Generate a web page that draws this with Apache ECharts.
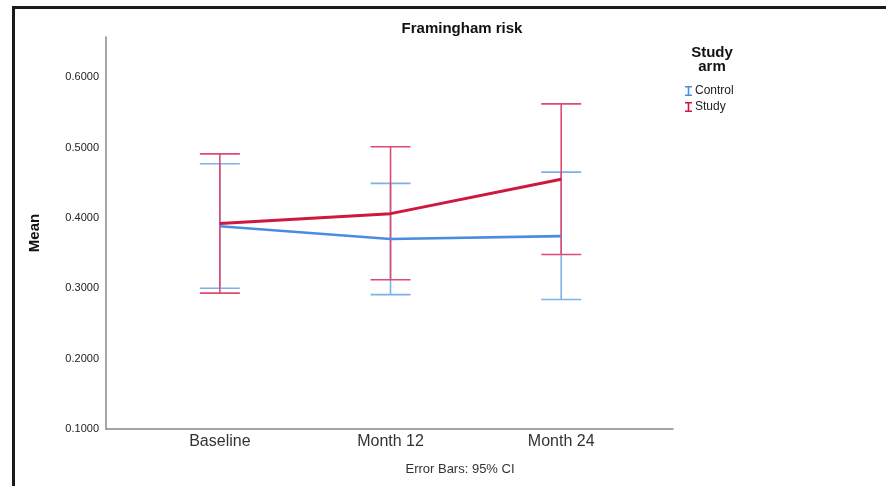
<!DOCTYPE html>
<html>
<head>
<meta charset="utf-8">
<script src="https://cdn.jsdelivr.net/npm/echarts@6/dist/echarts.min.js"></script>
<style>
  html, body { margin: 0; padding: 0; background: #fff; }
  #frame { position: absolute; left: 12px; top: 6px; width: 900px; height: 500px;
           border-top: 3px solid #1a1a1a; border-left: 3px solid #1a1a1a; }
  #main { position: absolute; left: 0; top: 0; width: 886px; height: 486px; }
</style>
</head>
<body>
<div id="frame"></div>
<div id="main"></div>
<script>
// 时间点
var categories = ['Baseline', 'Month 12', 'Month 24'];
// 均值
var controlMean = [0.388, 0.370, 0.374];
var studyMean   = [0.392, 0.406, 0.455];
// 95% CI
var controlLow  = [0.300, 0.291, 0.284];
var controlHigh = [0.477, 0.449, 0.465];
var studyLow    = [0.293, 0.312, 0.348];
var studyHigh   = [0.491, 0.501, 0.562];
// y轴刻度
var yTicks = [0.1, 0.2, 0.3, 0.4, 0.5, 0.6];

var blueLine = '#4a8de0', blueBar = '#7eb0ec';
var redLine = '#d0173e', redBar = '#e04a70';
var font = 'Liberation Sans, Arial, sans-serif';

function pairs(vals){
	return vals.map(function(v, i){ return [i, v]; });
}
function ci(low, high){
	return low.map(function(v, i){ return [i, v, high[i]]; });
}
//误差线
function errRender(color){
	return function(params, api){
		var x = api.value(0);
		var lo = api.coord([x, api.value(1)]);
		var hi = api.coord([x, api.value(2)]);
		var w = 20;
		var st = { stroke: color, lineWidth: 1.6 };
		return {
			type: 'group',
			children: [
				{ type: 'line', shape: { x1: hi[0], y1: hi[1], x2: lo[0], y2: lo[1] }, style: st },
				{ type: 'line', shape: { x1: hi[0] - w, y1: hi[1], x2: hi[0] + w, y2: hi[1] }, style: st },
				{ type: 'line', shape: { x1: lo[0] - w, y1: lo[1], x2: lo[0] + w, y2: lo[1] }, style: st }
			]
		};
	};
}

var iIcon = 'path://M0,0h7v1.6h-2.7v6.8h2.7v1.6h-7v-1.6h2.7v-6.8h-2.7z';

var chart = echarts.init(document.getElementById('main'));
var option = {
	animation: false,
	textStyle: { fontFamily: font },
	title: [
		{ text: 'Framingham risk', left: 457, top: 16, textAlign: 'center',
		  textStyle: { fontSize: 15, fontWeight: 'bold', color: '#111', fontFamily: font } },
		{ text: 'Study\narm', left: 707, top: 41, textAlign: 'center',
		  textStyle: { fontSize: 15, fontWeight: 'bold', color: '#111', lineHeight: 14, fontFamily: font } },
		{ text: 'Error Bars: 95% CI', left: 455, top: 458, textAlign: 'center',
		  textStyle: { fontSize: 13, fontWeight: 'normal', color: '#333', fontFamily: font } }
	],
	legend: {
		orient: 'vertical',
		left: 680, top: 80,
		itemWidth: 7, itemHeight: 11, itemGap: 4,
		textStyle: { fontSize: 12, color: '#222', padding: [0, 0, 0, -2] },
		data: [
			{ name: 'Control', icon: iIcon, itemStyle: { color: blueLine } },
			{ name: 'Study', icon: iIcon, itemStyle: { color: redLine } }
		]
	},
	grid: { left: 106, right: 213, top: 37, bottom: 57 },
	xAxis: {
		type: 'value', min: -0.667, max: 2.655,
		axisLine: { onZero: false, lineStyle: { color: '#888', width: 1.5 } },
		axisTick: { show: false },
		splitLine: { show: false },
		axisLabel: {
			customValues: [0, 1, 2], margin: 5, fontSize: 16, color: '#333',
			formatter: function(v){ return categories[Math.round(v)]; }
		}
	},
	yAxis: {
		type: 'value', min: 0.1, max: 0.657,
		name: 'Mean', nameLocation: 'middle', nameRotate: 90, nameGap: 64,
		nameTextStyle: { fontSize: 15, fontWeight: 'bold', color: '#111' },
		axisLine: { show: true, onZero: false, lineStyle: { color: '#888', width: 1.5 } },
		axisTick: { show: false },
		splitLine: { show: false },
		axisLabel: {
			customValues: yTicks, margin: 7, fontSize: 11, color: '#222',
			formatter: function(v){ return v.toFixed(4); }
		}
	},
	series: [
		{ name: 'Control', type: 'custom', renderItem: errRender(blueBar), data: ci(controlLow, controlHigh), z: 2 },
		{ name: 'Study', type: 'custom', renderItem: errRender(redBar), data: ci(studyLow, studyHigh), z: 3 },
		{ name: 'Control', type: 'line', data: pairs(controlMean), symbol: 'none', z: 4,
		  lineStyle: { color: blueLine, width: 2.6 }, itemStyle: { color: blueLine } },
		{ name: 'Study', type: 'line', data: pairs(studyMean), symbol: 'none', z: 5,
		  lineStyle: { color: redLine, width: 3 }, itemStyle: { color: redLine } }
	]
};
chart.setOption(option);
</script>
</body>
</html>
